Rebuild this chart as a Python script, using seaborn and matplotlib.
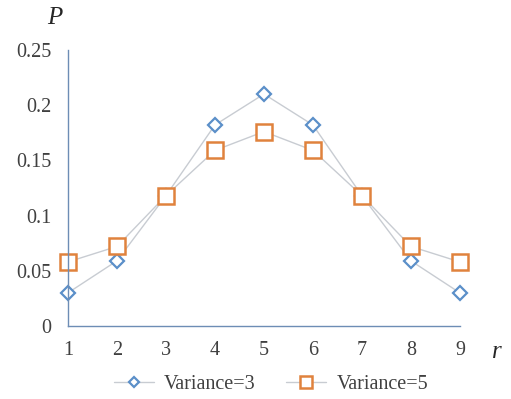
import matplotlib
matplotlib.use('Agg')
import matplotlib.pyplot as plt
import seaborn as sns
import pandas as pd

r = [1, 2, 3, 4, 5, 6, 7, 8, 9]
p_var3 = [0.030, 0.059, 0.118, 0.182, 0.210, 0.182, 0.118, 0.059, 0.030]
p_var5 = [0.058, 0.072, 0.118, 0.159, 0.176, 0.159, 0.118, 0.072, 0.058]
series_names = ['Variance=3', 'Variance=5']
y_ticks = [0, 0.05, 0.1, 0.15, 0.2, 0.25]
y_ticklabels = ['0', '0.05', '0.1', '0.15', '0.2', '0.25']

df = pd.DataFrame({
    'r': r * 2,
    'P': p_var3 + p_var5,
    'series': [series_names[0]] * len(r) + [series_names[1]] * len(r),
})

sns.set_style('white')
plt.rcParams['font.family'] = ['Liberation Serif', 'DejaVu Serif']

fig = plt.figure(figsize=(5.11, 3.99), dpi=100)
ax = fig.add_axes([0.133, 0.183, 0.767, 0.692])

blue = '#5b8fc9'
orange = '#e0823d'
line_c = '#c8ccd2'

sns.lineplot(data=df[df['series'] == series_names[0]], x='r', y='P', ax=ax,
             color=line_c, linewidth=1.0, marker='D', markersize=7,
             markerfacecolor='white', markeredgecolor=blue, markeredgewidth=1.6,
             label=series_names[0], clip_on=False)
sns.lineplot(data=df[df['series'] == series_names[1]], x='r', y='P', ax=ax,
             color=line_c, linewidth=1.0, marker='s', markersize=11,
             markerfacecolor='white', markeredgecolor=orange, markeredgewidth=1.8,
             label=series_names[1], clip_on=False)

ax.set_xlim(1, 9)
ax.set_ylim(0, 0.25)
ax.set_xticks(r)
ax.set_yticks(y_ticks)
ax.set_yticklabels(y_ticklabels)
ax.tick_params(axis='both', length=0, labelsize=14.5, colors='#404040')
ax.tick_params(axis='x', pad=11)
ax.tick_params(axis='y', pad=12)
ax.set_xlabel('')
ax.set_ylabel('')

for s in ['top', 'right']:
    ax.spines[s].set_visible(False)
for s in ['left', 'bottom']:
    ax.spines[s].set_color('#6d8db5')
    ax.spines[s].set_linewidth(1.0)

fig.text(55 / 511, 1 - 18 / 399, 'P', fontsize=18, style='italic', ha='center', va='center')
fig.text(497 / 511, 1 - 352 / 399, 'r', fontsize=18, style='italic', ha='center', va='center')

leg = ax.legend(loc='center', bbox_to_anchor=(0.518, (326 - 384) / 276), ncol=2, frameon=False,
                fontsize=14.5, handlelength=2.0, columnspacing=1.5, handletextpad=0.5,
                markerscale=0.75)
for t in leg.get_texts():
    t.set_color('#404040')

fig.savefig('out.png', dpi=100)
